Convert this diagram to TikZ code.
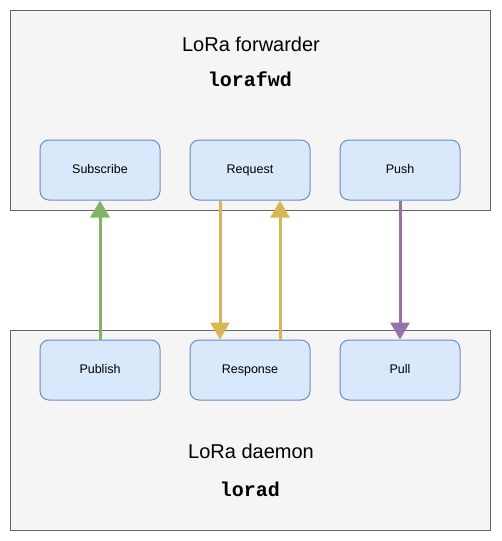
\documentclass[tikz,border=0pt]{standalone}
\usepackage{fontspec}
\setmainfont{Liberation Sans}
\newfontfamily\codefont{Liberation Mono}
\usetikzlibrary{arrows.meta}
\definecolor{outerfill}{HTML}{F5F5F5}
\definecolor{outerdraw}{HTML}{666666}
\definecolor{innerfill}{HTML}{DAE8FC}
\definecolor{innerdraw}{HTML}{6C8EBF}
\definecolor{agreen}{HTML}{82B366}
\definecolor{ayellow}{HTML}{D6B656}
\definecolor{apurple}{HTML}{9673A6}
\begin{document}
\begin{tikzpicture}[x=1pt,y=-1pt,
  outerbox/.style={draw=outerdraw,fill=outerfill,line width=1pt,minimum width=480pt,minimum height=200pt,inner sep=0pt},
  innerbox/.style={draw=innerdraw,fill=innerfill,line width=1pt,rounded corners=9pt,minimum width=120pt,minimum height=60pt,inner sep=0pt,text height=9pt,text depth=3pt,font=\fontsize{12.5}{14}\selectfont},
  titletext/.style={font=\fontsize{20}{23}\selectfont},
  codetext/.style={font=\codefont\bfseries\fontsize{20}{23}\selectfont},
  flow/.style={line width=3pt,-{Triangle[length=17pt,width=19pt]}}
]
\useasboundingbox (0,0) rectangle (501,541);
\node[outerbox] (fwd) at (250,110) {};
\node[outerbox] (dmn) at (250,430) {};
\node[titletext] (fwdtitle) at (251,44) {LoRa forwarder};
\node[codetext] (fwdcode) at (250,79) {lorafwd};
\node[titletext] (dmntitle) at (251,451) {LoRa daemon};
\node[codetext] (dmncode) at (250,489) {lorad};
\node[innerbox] (sub) at (100,170) {Subscribe};
\node[innerbox] (req) at (250,170) {Request};
\node[innerbox] (push) at (400,170) {Push};
\node[innerbox] (pub) at (100,370) {Publish};
\node[innerbox] (resp) at (250,370) {Response};
\node[innerbox] (pull) at (400,370) {Pull};
\draw[flow,draw=agreen,fill=agreen] (pub.north) -- (sub.south);
\draw[flow,draw=ayellow,fill=ayellow] ([xshift=-30pt]req.south) -- ([xshift=-30pt]resp.north);
\draw[flow,draw=ayellow,fill=ayellow] ([xshift=30pt]resp.north) -- ([xshift=30pt]req.south);
\draw[flow,draw=apurple,fill=apurple] (push.south) -- (pull.north);
\end{tikzpicture}
\end{document}
